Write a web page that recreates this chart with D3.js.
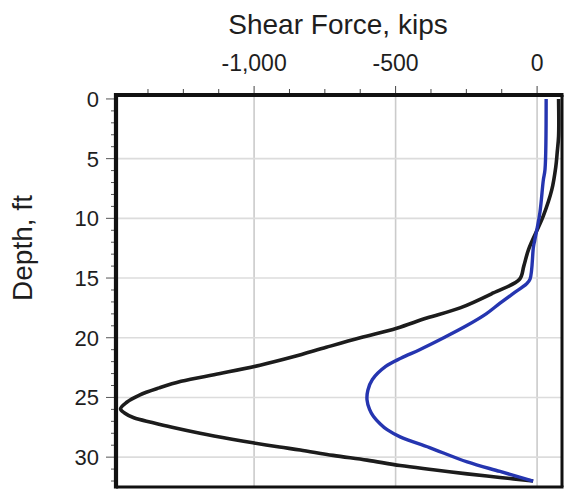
<!DOCTYPE html>
<html>
<head>
<meta charset="utf-8">
<script src="https://cdn.jsdelivr.net/npm/d3@7/dist/d3.min.js"></script>
<style>
  html, body { margin: 0; padding: 0; background: #fff; }
  text { font-family: "Liberation Sans", Arial, sans-serif; fill: #1e1e1e; }
</style>
</head>
<body>
<svg id="chart" width="566" height="490"></svg>
<script>
// ---- data (depth in ft, shear force in kips) ----
const blackDepth = [0, 3.1, 4.5, 5.7, 7.6, 9.8, 12.6, 14.0, 15.1, 16.25, 17.5, 18.35, 19.2, 20.0, 20.8, 21.6, 22.3, 23.0, 23.65, 24.2, 24.8, 25.4, 25.95, 26.3, 26.7, 27.1, 27.5, 28.0, 28.5, 28.8, 29.15, 29.4, 29.85, 30.25, 30.7, 31.05, 31.4, 31.7, 32.0];
const blackForce = [76, 76, 71, 66, 52, 22, -30, -47, -62, -155, -272, -390, -496, -625, -745, -862, -979, -1120, -1258, -1335, -1405, -1450, -1472, -1458, -1425, -1360, -1290, -1191, -1078, -1004, -910, -837, -721, -601, -484, -367, -247, -131, -14];
const blueDepth = [0, 5.9, 6.8, 9.5, 11.8, 12.4, 15.1, 15.5, 16.3, 17.1, 18.0, 19.0, 20.0, 21.0, 21.7, 22.4, 23.5, 24.4, 25.2, 26.0, 26.6, 27.2, 27.7, 28.3, 29.2, 30.4, 31.2, 32.0];
const blueForce  = [32, 28, 22, 10, -8, -13, -25, -38, -85, -131, -180, -250, -330, -415, -480, -535, -582, -598, -601, -592, -578, -555, -530, -484, -380, -247, -131, -14];
const xTickLabels = [-1000, -500, 0];
const xMinorTicks = d3.range(-1375, 1, 125);
const yTickLabels = [0, 5, 10, 15, 20, 25, 30];
const yMinorTicks = d3.range(0, 33, 1);

const svg = d3.select("#chart");
const L = 116, R = 562, T = 95, B = 487;
const x = d3.scaleLinear().domain([-1488, 88]).range([L, R]);
const y = d3.scaleLinear().domain([-0.33, 32.5]).range([T, B]);

// grid
svg.append("g").selectAll("line").data(xTickLabels).join("line")
  .attr("x1", d => x(d)).attr("x2", d => x(d)).attr("y1", T).attr("y2", B)
  .attr("stroke", "#cbcbcb").attr("stroke-width", 1.6);
svg.append("g").selectAll("line").data(yTickLabels.filter(d => d > 0)).join("line")
  .attr("x1", L).attr("x2", R).attr("y1", d => y(d)).attr("y2", d => y(d))
  .attr("stroke", "#dcdcdc").attr("stroke-width", 1.6);

// top axis ticks
svg.append("g").selectAll("line").data(xMinorTicks).join("line")
  .attr("x1", d => x(d)).attr("x2", d => x(d))
  .attr("y1", T).attr("y2", d => xTickLabels.includes(d) ? T - 9 : T - 6)
  .attr("stroke", "#444").attr("stroke-width", 1);
svg.append("g").selectAll("text").data(xTickLabels).join("text")
  .attr("x", d => x(d)).attr("y", 71)
  .attr("text-anchor", "middle").attr("font-size", 23)
  .text(d => d3.format(",")(d).replace("\u2212", "-"));

// left axis ticks
svg.append("g").selectAll("line").data(yMinorTicks).join("line")
  .attr("y1", d => y(d)).attr("y2", d => y(d))
  .attr("x1", L).attr("x2", d => yTickLabels.includes(d) ? L - 10 : L - 5)
  .attr("stroke", "#555").attr("stroke-width", 1);
svg.append("g").selectAll("text").data(yTickLabels).join("text")
  .attr("x", 99).attr("y", d => y(d)).attr("dy", "0.36em")
  .attr("text-anchor", "end").attr("font-size", 22)
  .text(d => d);

// curves
const lineGen = d3.line().x(d => x(d[1])).y(d => y(d[0])).curve(d3.curveCatmullRom.alpha(0.5));
svg.append("path")
  .datum(blackDepth.map((d, i) => [d, blackForce[i]]))
  .attr("d", lineGen).attr("fill", "none")
  .attr("stroke", "#1c1c1c").attr("stroke-width", 3.6).attr("stroke-linejoin", "round");
svg.append("path")
  .datum(blueDepth.map((d, i) => [d, blueForce[i]]))
  .attr("d", lineGen).attr("fill", "none")
  .attr("stroke", "#2535b0").attr("stroke-width", 3.4).attr("stroke-linejoin", "round");

// frame: heavier top/left, lighter right/bottom
svg.append("line").attr("x1", L).attr("x2", R + 1.5).attr("y1", T).attr("y2", T)
  .attr("stroke", "#111").attr("stroke-width", 4.2);
svg.append("line").attr("x1", L).attr("x2", L).attr("y1", T - 2).attr("y2", B + 1.5)
  .attr("stroke", "#111").attr("stroke-width", 4.2);
svg.append("line").attr("x1", R).attr("x2", R).attr("y1", T).attr("y2", B)
  .attr("stroke", "#111").attr("stroke-width", 3);
svg.append("line").attr("x1", L).attr("x2", R + 1.5).attr("y1", B).attr("y2", B)
  .attr("stroke", "#111").attr("stroke-width", 3);

// titles
svg.append("text").attr("x", 338).attr("y", 34).attr("text-anchor", "middle")
  .attr("font-size", 28).text("Shear Force, kips");
svg.append("text").attr("transform", "translate(32,248) rotate(-90)")
  .attr("text-anchor", "middle").attr("font-size", 28).text("Depth, ft");
</script>
</body>
</html>
